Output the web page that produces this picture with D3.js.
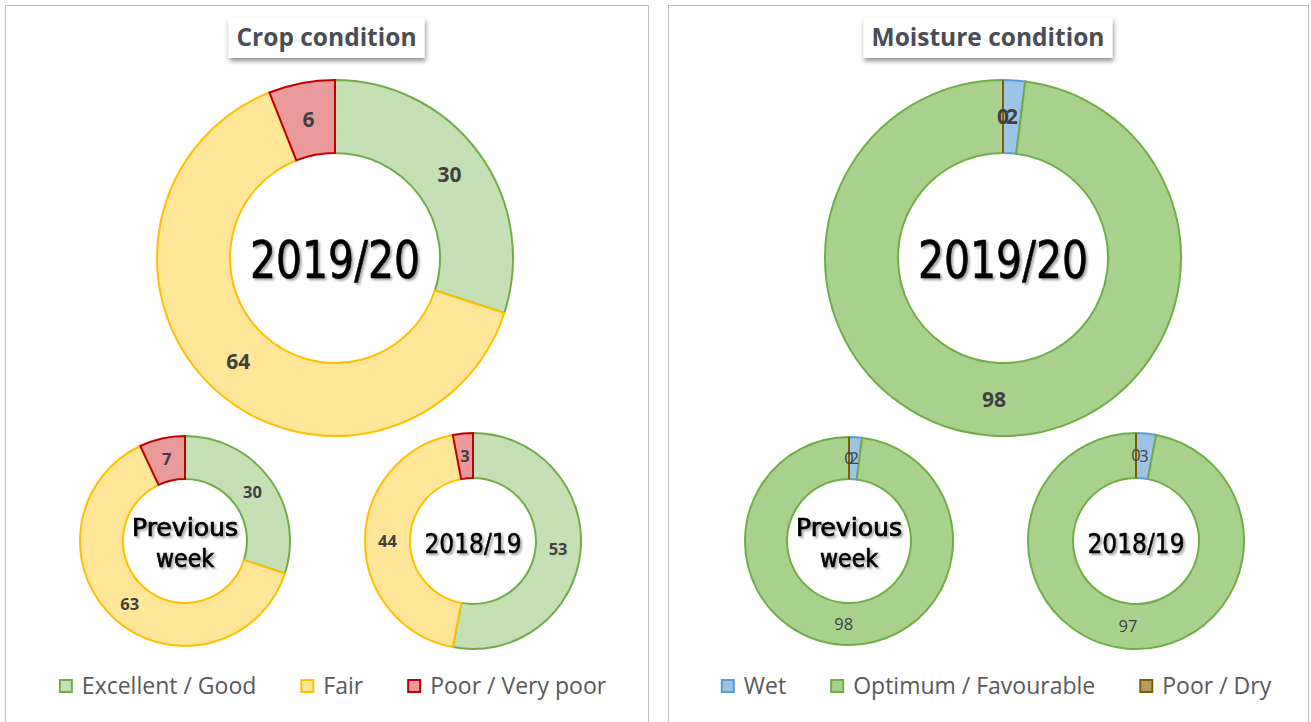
<!DOCTYPE html>
<html>
<head>
<meta charset="utf-8">
<script src="https://cdn.jsdelivr.net/npm/d3@7"></script>
<style>
  html, body { margin: 0; padding: 0; background: #fff; }
  svg { display: block; }
</style>
</head>
<body>
<svg id="chart" width="1311" height="722"></svg>
<script>
// ---------- DATA ----------
const cropCategories = ["Excellent / Good", "Fair", "Poor / Very poor"];
const cropCurrent = [30, 64, 6];
const cropPreviousWeek = [30, 63, 7];
const cropLastYear = [53, 44, 3];

const moistureCategories = ["Wet", "Optimum / Favourable", "Poor / Dry"];
const moistureCurrent = [2, 98, 0];
const moisturePreviousWeek = [2, 98, 0];
const moistureLastYear = [3, 97, 0];

const periodLabels = ["2019/20", "Previous week", "2018/19"];
const panelTitles = ["Crop condition", "Moisture condition"];

// ---------- STYLES ----------
const cropFill = ["#C5E0B4", "#FFE699", "#EA9A9B"];
const cropStroke = ["#70AD47", "#FFC000", "#C00000"];
const moistFill = ["#9DC3E6", "#A9D18E", "#B29C62"];
const moistStroke = ["#5B9BD5", "#70AD47", "#7F6000"];

const svg = d3.select("#chart");
const defs = svg.append("defs");
const f1 = defs.append("filter").attr("id", "txtShadow").attr("x", "-10%").attr("y", "-20%").attr("width", "130%").attr("height", "150%");
f1.append("feDropShadow").attr("dx", 2).attr("dy", 2).attr("stdDeviation", 1.2).attr("flood-color", "#000").attr("flood-opacity", 0.35);
const f2 = defs.append("filter").attr("id", "boxShadow").attr("x", "-10%").attr("y", "-20%").attr("width", "130%").attr("height", "160%");
f2.append("feDropShadow").attr("dx", 1).attr("dy", 3).attr("stdDeviation", 2.5).attr("flood-color", "#000").attr("flood-opacity", 0.45);

// ---------- PANELS ----------
const panels = [
  {x: 5, y: 5, w: 643, title: panelTitles[0], cats: cropCategories, fill: cropFill, stroke: cropStroke,
   donuts: [
     {values: cropCurrent, cx: 335, cy: 258, r: 178, ir: 105, label: periodLabels[0], big: true},
     {values: cropPreviousWeek, cx: 185, cy: 541, r: 105, ir: 62, label: periodLabels[1]},
     {values: cropLastYear, cx: 473, cy: 541, r: 108, ir: 63, label: periodLabels[2]}
   ], labelBold: [true, true], legendShift: 6},
  {x: 668, y: 5, w: 640, title: panelTitles[1], cats: moistureCategories, fill: moistFill, stroke: moistStroke,
   donuts: [
     {values: moistureCurrent, cx: 1003, cy: 258, r: 178, ir: 105, label: periodLabels[0], big: true},
     {values: moisturePreviousWeek, cx: 849, cy: 541, r: 104, ir: 62, label: periodLabels[1]},
     {values: moistureLastYear, cx: 1136, cy: 541, r: 108, ir: 63, label: periodLabels[2]}
   ], labelBold: [true, false], legendShift: 8}
];

const pie = d3.pie().sort(null).value(d => d);

panels.forEach(p => {
  const g = svg.append("g");
  // frame
  g.append("rect").attr("x", p.x + 0.5).attr("y", p.y + 0.5).attr("width", p.w).attr("height", 740)
    .attr("fill", "#fff").attr("stroke", "#BFBFBF").attr("stroke-width", 1);

  const midX = p.x + p.w / 2;

  // donuts
  p.donuts.forEach(d => {
    const arc = d3.arc().innerRadius(d.ir).outerRadius(d.r);
    const dg = g.append("g").attr("transform", `translate(${d.cx},${d.cy})`);
    const arcs = pie(d.values);
    dg.selectAll("path.slice").data(arcs).enter().append("path")
      .attr("class", "slice")
      .attr("d", arc)
      .attr("fill", (a, i) => p.fill[i])
      .attr("stroke", (a, i) => p.stroke[i])
      .attr("stroke-width", 2)
      .attr("stroke-linejoin", "miter");
    const bold = d.big ? p.labelBold[0] : p.labelBold[1];
    dg.selectAll("text.val").data(arcs).enter().append("text")
      .attr("class", "val")
      .attr("transform", a => `translate(${arc.centroid(a)})`)
      .attr("text-anchor", "middle")
      .attr("dy", "0.36em")
      .attr("font-family", "'Open Sans', sans-serif")
      .attr("font-weight", bold ? 700 : 400)
      .attr("font-size", d.big ? 21 : 16.5)
      .attr("fill", "#404040")
      .text(a => a.data);

    // center label
    const cf = "'DejaVu Sans Condensed', 'DejaVu Sans', sans-serif";
    if (d.label === periodLabels[1]) {
      const words = d.label.split(" ");
      dg.append("text").attr("x", 0).attr("y", -5).attr("text-anchor", "middle")
        .attr("font-family", cf).attr("font-size", 25)
        .attr("textLength", 106).attr("lengthAdjust", "spacingAndGlyphs")
        .attr("fill", "#000").attr("stroke", "#000").attr("stroke-width", 0.7)
        .attr("filter", "url(#txtShadow)").text(words[0]);
      dg.append("text").attr("x", 0).attr("y", 26).attr("text-anchor", "middle")
        .attr("font-family", cf).attr("font-size", 25)
        .attr("textLength", 58).attr("lengthAdjust", "spacingAndGlyphs")
        .attr("fill", "#000").attr("stroke", "#000").attr("stroke-width", 0.7)
        .attr("filter", "url(#txtShadow)").text(words[1]);
    } else if (d.big) {
      dg.append("text").attr("x", 0).attr("y", 20).attr("text-anchor", "middle")
        .attr("font-family", cf).attr("font-size", 52)
        .attr("textLength", 170).attr("lengthAdjust", "spacingAndGlyphs")
        .attr("fill", "#000").attr("stroke", "#000").attr("stroke-width", 0.6)
        .attr("filter", "url(#txtShadow)").text(d.label);
    } else {
      dg.append("text").attr("x", 0).attr("y", 12).attr("text-anchor", "middle")
        .attr("font-family", cf).attr("font-size", 27)
        .attr("textLength", 97).attr("lengthAdjust", "spacingAndGlyphs")
        .attr("fill", "#000").attr("stroke", "#000").attr("stroke-width", 0.5)
        .attr("filter", "url(#txtShadow)").text(d.label);
    }
  });

  // title box
  const tg = g.append("g");
  const tbox = tg.append("rect").attr("fill", "#fff").attr("filter", "url(#boxShadow)");
  const tt = tg.append("text").attr("x", midX).attr("y", 46).attr("text-anchor", "middle")
    .attr("font-family", "'Open Sans', sans-serif").attr("font-weight", 700).attr("font-size", 24.5)
    .attr("fill", "#4A4D55").text(p.title);
  const bb = tt.node().getBBox();
  tbox.attr("x", bb.x - 8).attr("y", 18).attr("width", bb.width + 16).attr("height", 40);

  // legend
  const lg = g.append("g");
  const items = p.cats.map((c, i) => {
    const it = lg.append("g");
    it.append("rect").attr("x", 1).attr("y", -6).attr("width", 12).attr("height", 12)
      .attr("fill", p.fill[i]).attr("stroke", p.stroke[i]).attr("stroke-width", 2);
    const t = it.append("text").attr("x", 23).attr("y", 0).attr("dy", "0.35em")
      .attr("font-family", "'Open Sans', sans-serif").attr("font-size", 23)
      .attr("fill", "#595959").text(c);
    return {g: it, w: 23 + t.node().getComputedTextLength()};
  });
  const gap = 44;
  const total = d3.sum(items, d => d.w) + gap * (items.length - 1);
  let x0 = midX + p.legendShift - total / 2;
  items.forEach(it => { it.g.attr("transform", `translate(${x0},686)`); x0 += it.w + gap; });
});
</script>
</body>
</html>
